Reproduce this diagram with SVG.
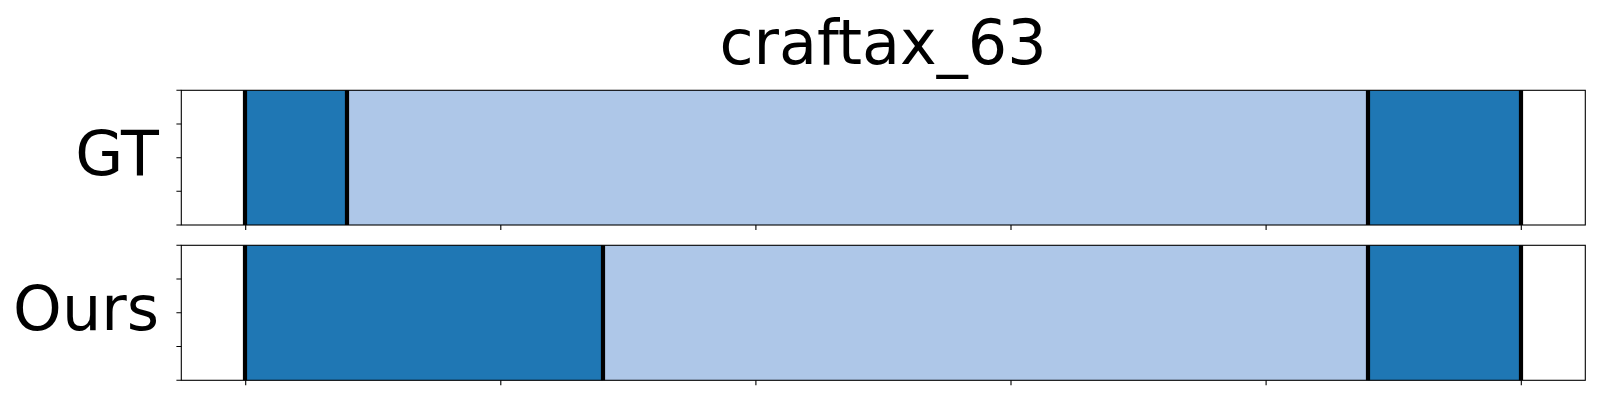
<svg xmlns="http://www.w3.org/2000/svg" width="1600" height="400" viewBox="0 0 1600 400">
<style>
.dark{fill:#1f77b4}
.light{fill:#aec7e8}
.sep{stroke:#000;stroke-width:4.2}
.frame{fill:none;stroke:#000;stroke-width:1.1}
.tick{stroke:#000;stroke-width:1.1}
.lbl{font-family:"DejaVu Sans",sans-serif;font-size:62px;fill:#000}
</style>
<rect width="1600" height="400" fill="#fff"/>
<text class="lbl" x="883" y="63.5" text-anchor="middle">craftax_63</text>
<g id="gt">
<rect class="dark" x="245" y="90.3" width="102" height="134.7"/>
<rect class="light" x="347" y="90.3" width="1021" height="134.7"/>
<rect class="dark" x="1368" y="90.3" width="153.3" height="134.7"/>
<line class="sep" x1="245" y1="90.3" x2="245" y2="225"/>
<line class="sep" x1="347" y1="90.3" x2="347" y2="225"/>
<line class="sep" x1="1368" y1="90.3" x2="1368" y2="225"/>
<line class="sep" x1="1521" y1="90.3" x2="1521" y2="225"/>
<rect class="frame" x="181.3" y="90.3" width="1404" height="134.7"/>
<path class="tick" d="M176.4 90.3H181.3M176.4 124H181.3M176.4 157.7H181.3M176.4 191.3H181.3M176.4 225H181.3"/>
<path class="tick" d="M245.7 225V229.9M500.8 225V229.9M755.9 225V229.9M1011 225V229.9M1266.1 225V229.9M1521.3 225V229.9"/>
<text class="lbl" x="159" y="175.3" text-anchor="end">GT</text>
</g>
<g id="ours">
<rect class="dark" x="245" y="245.3" width="358" height="135"/>
<rect class="light" x="603" y="245.3" width="765" height="135"/>
<rect class="dark" x="1368" y="245.3" width="153.3" height="135"/>
<line class="sep" x1="245" y1="245.3" x2="245" y2="380.3"/>
<line class="sep" x1="603" y1="245.3" x2="603" y2="380.3"/>
<line class="sep" x1="1368" y1="245.3" x2="1368" y2="380.3"/>
<line class="sep" x1="1521" y1="245.3" x2="1521" y2="380.3"/>
<rect class="frame" x="181.3" y="245.3" width="1404" height="135"/>
<path class="tick" d="M176.4 245.3H181.3M176.4 279H181.3M176.4 312.8H181.3M176.4 346.5H181.3M176.4 380.3H181.3"/>
<path class="tick" d="M245.7 380.3V385.2M500.8 380.3V385.2M755.9 380.3V385.2M1011 380.3V385.2M1266.1 380.3V385.2M1521.3 380.3V385.2"/>
<text class="lbl" x="159" y="330.3" text-anchor="end">Ours</text>
</g>
</svg>
